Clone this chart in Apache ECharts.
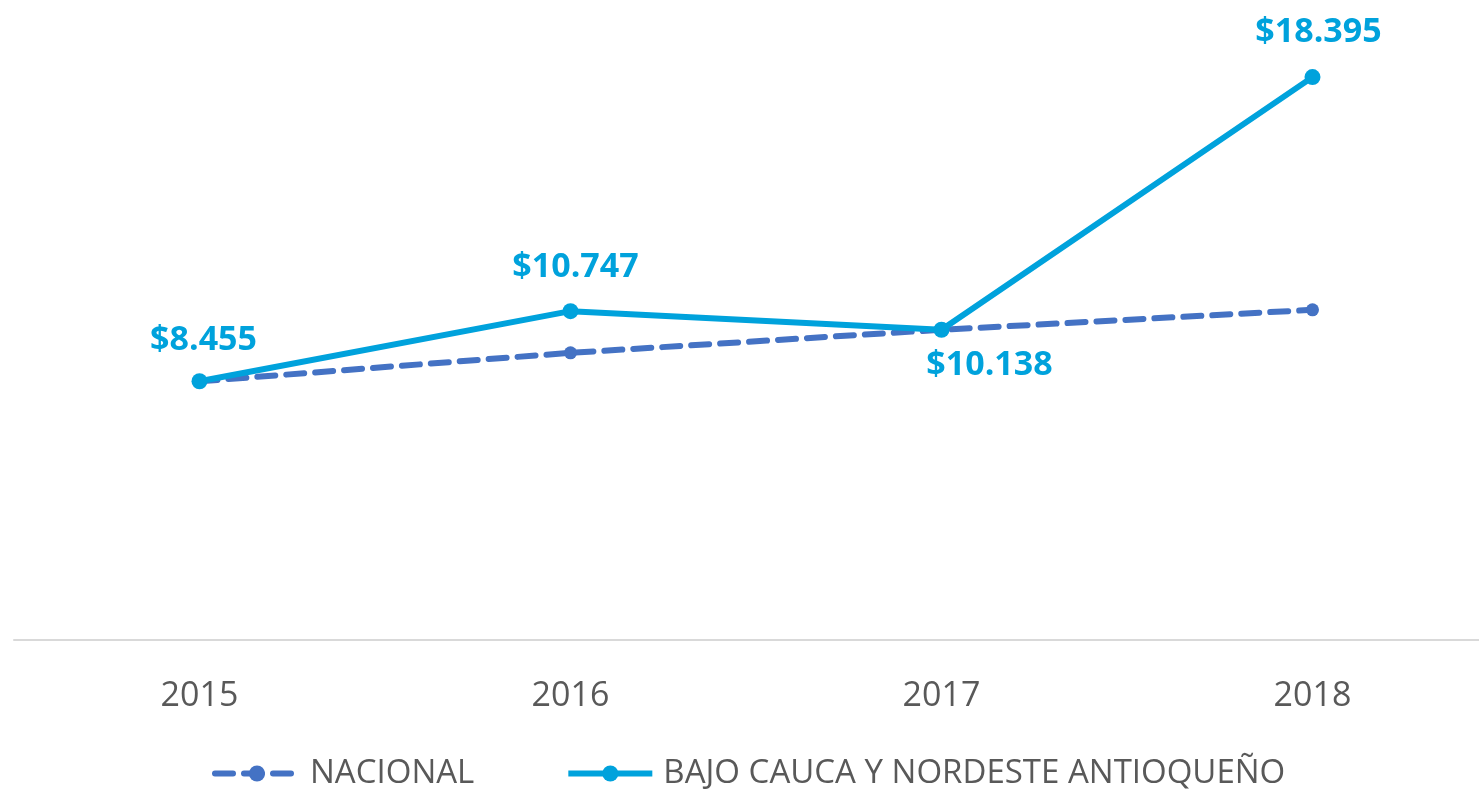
<!DOCTYPE html>
<html><head><meta charset="utf-8">
<script src="https://cdn.jsdelivr.net/npm/echarts@6/dist/echarts.min.js"></script>
<style>html,body{margin:0;padding:0;background:#fff;overflow:hidden}#c{width:1498px;height:789px}</style>
</head><body><div id="c"></div>
<script>
var years = ['2015','2016','2017','2018'];
var nacional = [8455, 9385, 10138, 10790];
var bajoCauca = [8455, 10747, 10138, 18395];
var bajoLabelPos = ['top','top','bottom','top'];

var chart = echarts.init(document.getElementById('c'));
function fmt(v){ return '$' + (v/1000).toFixed(3); }
var labelDist = [16,19,11,20];
var labelOff = [[4,0],[5,0],[48,0],[6,0]];
chart.setOption({
  animation:false,
  grid:{left:14, top:28, bottom:149, right:0},
  legend:{
    top:752, left:207, itemWidth:84, itemHeight:20, itemGap:91,
    lineStyle:{width:6},
    textStyle:{fontFamily:'Open Sans', fontSize:33, color:'#595959', padding:[0,0,0,6]},
    data:['NACIONAL','BAJO CAUCA Y NORDESTE ANTIOQUEÑO']
  },
  xAxis:{type:'category', data:years, boundaryGap:true,
    axisLine:{lineStyle:{color:'#d9d9d9', width:2}},
    axisTick:{show:false},
    axisLabel:{fontFamily:'Open Sans', fontSize:34, color:'#595959', margin:39}
  },
  yAxis:{type:'value', min:0, max:20000, show:false, splitLine:{show:false}},
  series:[
    {name:'NACIONAL', type:'line', data:nacional, symbol:'circle', symbolSize:13,
      itemStyle:{color:'#4472C4'},
      lineStyle:{color:'#4472C4', width:6, type:[18,11], cap:'round'}, z:2},
    {name:'BAJO CAUCA Y NORDESTE ANTIOQUEÑO', type:'line', symbol:'circle', symbolSize:16,
      data: bajoCauca.map(function(v,i){return {value:v, label:{position:bajoLabelPos[i], distance:labelDist[i], offset:labelOff[i]}};}),
      itemStyle:{color:'#00A2DC'},
      lineStyle:{color:'#00A2DC', width:6}, z:3,
      label:{show:true, formatter:function(p){return fmt(p.value);}, fontFamily:'Open Sans', fontWeight:'bold',
        fontSize:34, color:'#00A2DC'}
    }
  ]
});
</script></body></html>
